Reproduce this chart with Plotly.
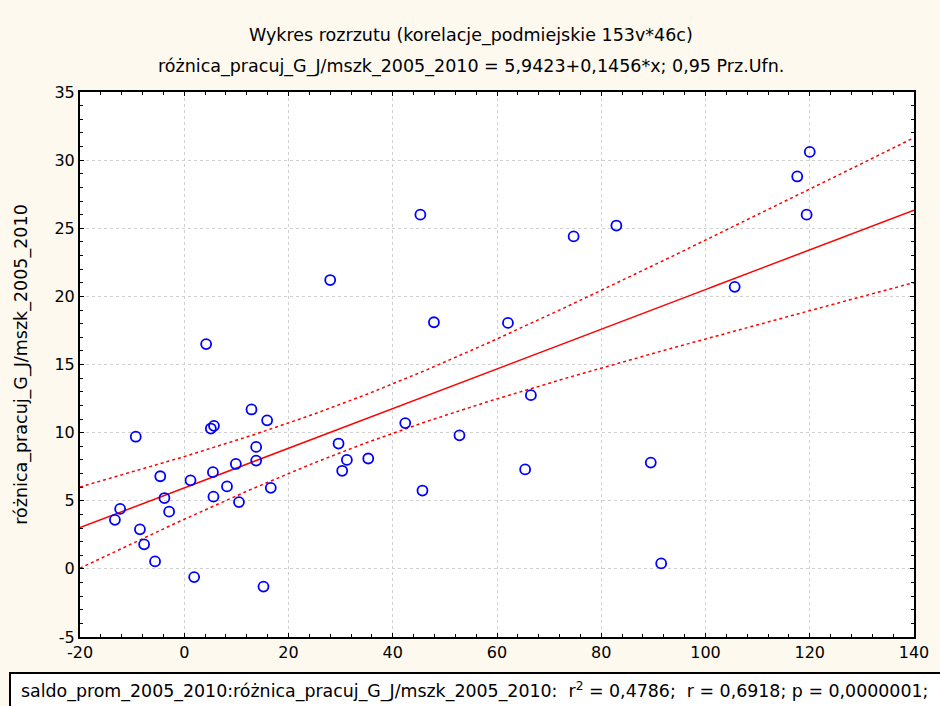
import numpy as np
import plotly.graph_objects as go

# ---- data ----
saldo_x = [-13.3, -12.3, -9.3, -8.5, -7.7, -5.6, -4.6, -3.8, -2.9, 1.2,
           1.9, 4.2, 5.1, 5.7, 5.5, 5.6, 8.2, 9.9, 10.5, 12.9,
           13.8, 13.8, 15.2, 15.9, 16.6, 28.0, 29.6, 30.3, 31.2, 35.3,
           42.4, 45.3, 45.7, 47.9, 52.8, 62.1, 65.4, 66.5, 74.7, 82.9,
           89.5, 91.5, 105.6, 117.6, 119.4, 120.0]
roznica_y = [3.6, 4.4, 9.7, 2.9, 1.8, 0.55, 6.8, 5.2, 4.2, 6.5,
             -0.6, 16.5, 10.3, 10.5, 7.1, 5.3, 6.05, 7.7, 4.9, 11.7,
             8.95, 7.95, -1.3, 10.9, 5.95, 21.2, 9.2, 7.2, 8.0, 8.1,
             10.7, 26.0, 5.75, 18.1, 9.8, 18.05, 7.3, 12.75, 24.4, 25.2,
             7.8, 0.4, 20.7, 28.8, 26.0, 30.6]

intercept = 5.9423
slope = 0.1456
t_crit = 2.0154  # t(0.975, df=44)

x_ticks = [-20, 0, 20, 40, 60, 80, 100, 120, 140]
y_ticks = [-5, 0, 5, 10, 15, 20, 25, 30, 35]

title1 = "Wykres rozrzutu (korelacje_podmiejskie 153v*46c)"
title2 = "różnica_pracuj_G_J/mszk_2005_2010 = 5,9423+0,1456*x; 0,95 Prz.Ufn."
y_title = "różnica_pracuj_G_J/mszk_2005_2010"
footer = ("saldo_prom_2005_2010:różnica_pracuj_G_J/mszk_2005_2010:  r<sup>2</sup> = 0,4786;  "
          "r = 0,6918; p = 0,0000001;")

# ---- regression line and 95% confidence band ----
xa = np.array(saldo_x)
ya = np.array(roznica_y)
n = len(xa)
resid = ya - (intercept + slope * xa)
s = np.sqrt(np.sum(resid ** 2) / (n - 2))
xm = xa.mean()
sxx = np.sum((xa - xm) ** 2)
xl = np.linspace(-20, 140, 200)
yl = intercept + slope * xl
half = t_crit * s * np.sqrt(1.0 / n + (xl - xm) ** 2 / sxx)

FONT = "DejaVu Sans, Arial, sans-serif"
BG = "#FDF9EF"
FS = 16
FS_T = 17.5

fig = go.Figure()
fig.add_trace(go.Scatter(x=xl, y=yl + half, mode="lines",
                         line=dict(color="#FF0000", width=1.5, dash="dot"),
                         hoverinfo="skip", showlegend=False))
fig.add_trace(go.Scatter(x=xl, y=yl - half, mode="lines",
                         line=dict(color="#FF0000", width=1.5, dash="dot"),
                         hoverinfo="skip", showlegend=False))
fig.add_trace(go.Scatter(x=xl, y=yl, mode="lines",
                         line=dict(color="#FF0000", width=1.5),
                         hoverinfo="skip", showlegend=False))
fig.add_trace(go.Scatter(x=saldo_x, y=roznica_y, mode="markers",
                         marker=dict(symbol="circle-open", size=10,
                                     color="#0000FF", line=dict(width=1.8)),
                         showlegend=False))

axis_common = dict(
    showline=True, linecolor="black", linewidth=2, mirror="ticks",
    ticks="inside", ticklen=4, tickcolor="black", tickwidth=1,
    showgrid=True, gridcolor="#D0D0D0", griddash="dot", gridwidth=1,
    zeroline=False,
    tickfont=dict(family=FONT, size=FS, color="black"),
)

fig.update_xaxes(range=[-20, 140], tickvals=x_ticks,
                 ticktext=[str(v) for v in x_ticks],
                 minor=dict(dtick=4, tick0=-20, ticks="inside", ticklen=3,
                            tickcolor="black", showgrid=False),
                 **axis_common)
fig.update_yaxes(range=[-5, 35], tickvals=y_ticks,
                 ticktext=[str(v) for v in y_ticks],
                 minor=dict(dtick=1, tick0=-5, ticks="inside", ticklen=3,
                            tickcolor="black", showgrid=False),
                 title=dict(text=y_title, font=dict(family=FONT, size=FS_T, color="black"),
                            standoff=22),
                 **axis_common)

tx = (471 - 80) / 834
fig.add_annotation(text=title1, xref="paper", yref="paper", x=tx, y=(637 - 35) / 545,
                   showarrow=False, xanchor="center", yanchor="middle",
                   font=dict(family=FONT, size=FS_T, color="black"))
fig.add_annotation(text=title2, xref="paper", yref="paper", x=tx, y=(637 - 66) / 545,
                   showarrow=False, xanchor="center", yanchor="middle",
                   font=dict(family=FONT, size=FS_T, color="black"))

# footer box
fig.add_shape(type="rect", xref="paper", yref="paper",
              x0=(10 - 80) / 834, x1=(950 - 80) / 834,
              y0=(637 - 715) / 545, y1=(637 - 673) / 545,
              line=dict(color="black", width=2), fillcolor="white", layer="above")
fig.add_annotation(text=footer, xref="paper", yref="paper",
                   x=(19 - 80) / 834, y=(637 - 690) / 545,
                   showarrow=False, xanchor="left", yanchor="middle",
                   font=dict(family=FONT, size=17.4, color="black"))

fig.update_layout(
    width=940, height=706,
    margin=dict(l=80, r=26, t=92, b=69),
    paper_bgcolor=BG, plot_bgcolor="white",
    showlegend=False,
)

fig.write_html("out.html", config={"displayModeBar": False},
               post_script="document.body.style.margin='0';"
                           "document.body.style.overflow='hidden';"
                           "document.body.style.background='%s';" % BG)
